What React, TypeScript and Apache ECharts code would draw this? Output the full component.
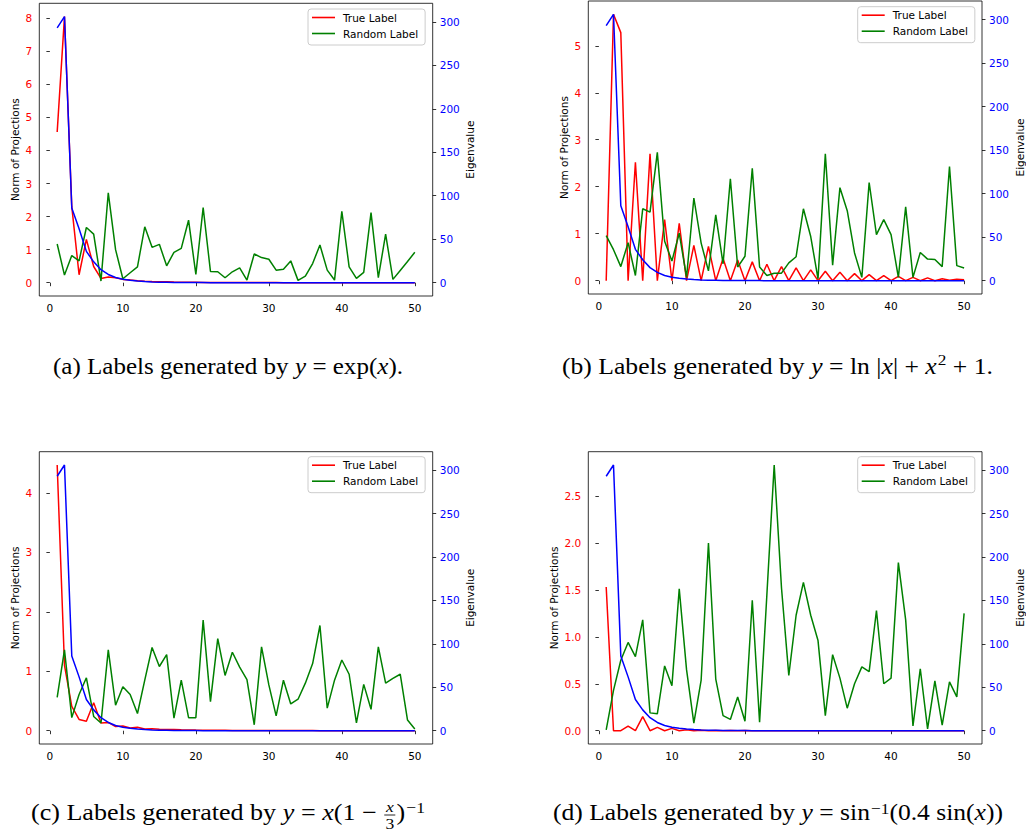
import React, { useEffect, useRef } from "react";
import * as echarts from "echarts";

// ---------- data ----------
const X_TICKS = [0, 10, 20, 30, 40, 50];
const EIG_TICKS = [0, 50, 100, 150, 200, 250, 300];
const NORM_TICKS_A = [0, 1, 2, 3, 4, 5, 6, 7, 8];
const NORM_TICKS_B = [0, 1, 2, 3, 4, 5];
const NORM_TICKS_C = [0, 1, 2, 3, 4];
const NORM_TICKS_D = [0, 0.5, 1, 1.5, 2, 2.5];

const EIGENVALUES = [
  293, 306, 86, 62, 36, 24, 15, 9.5, 6, 4,
  2.8, 1.9, 1.3, 0.9, 0.6, 0.45, 0.32, 0.23, 0.16, 0.12,
  0.09, 0.07, 0.05, 0.04, 0.03, 0.025, 0.02, 0.016, 0.013, 0.01,
  0.008, 0.007, 0.006, 0.005, 0.004, 0.0035, 0.003, 0.0025, 0.002, 0.0018,
  0.0015, 0.0013, 0.0011, 0.001, 0.0009, 0.0008, 0.0007, 0.0006, 0.0005, 0.0004,
];

const TRUE_A = [
  4.56, 8.05, 2.3, 0.24, 1.31, 0.49, 0.13, 0.17, 0.15, 0.1,
  0.08, 0.06, 0.045, 0.035, 0.03, 0.025, 0.02, 0.016, 0.013, 0.011,
  0.009, 0.008, 0.007, 0.006, 0.005, 0.005, 0.004, 0.004, 0.003, 0.003,
  0.003, 0.002, 0.002, 0.002, 0.002, 0.002, 0.001, 0.001, 0.001, 0.001,
  0.001, 0.001, 0.001, 0.001, 0.001, 0.001, 0.001, 0.001, 0.001, 0.001,
];
const RANDOM_A = [
  1.17, 0.23, 0.82, 0.66, 1.67, 1.47, 0.05, 2.72, 1.0, 0.12,
  0.3, 0.48, 1.69, 1.07, 1.16, 0.51, 0.92, 1.04, 1.89, 0.25,
  2.27, 0.34, 0.33, 0.15, 0.33, 0.45, 0.08, 0.87, 0.76, 0.71,
  0.38, 0.41, 0.66, 0.07, 0.2, 0.58, 1.14, 0.38, 0.08, 2.16,
  0.48, 0.13, 0.31, 2.12, 0.15, 1.47, 0.1, 0.37, 0.64, 0.92,
];

const TRUE_B = [
  0, 5.67, 5.28, 0, 2.52, 0, 2.7, 0, 1.3, 0,
  1.22, 0, 0.75, 0, 0.73, 0, 0.47, 0, 0.44, 0,
  0.4, 0, 0.35, 0, 0.3, 0, 0.27, 0, 0.23, 0,
  0.2, 0, 0.18, 0, 0.15, 0, 0.13, 0, 0.11, 0,
  0.09, 0, 0.07, 0, 0.06, 0, 0.04, 0.01, 0.03, 0.02,
];
const RANDOM_B = [
  0.96, 0.66, 0.3, 0.81, 0.11, 1.53, 1.46, 2.73, 0.84, 0.42,
  1.01, 0.07, 1.76, 0.8, 0.21, 1.4, 0.36, 2.17, 0.29, 0.52,
  2.39, 0.29, 0.11, 0.16, 0.16, 0.38, 0.51, 1.53, 0.94, 0.04,
  2.7, 0.33, 1.98, 1.49, 0.59, 0.07, 2.09, 0.98, 1.3, 0.98,
  0.07, 1.57, 0.07, 0.6, 0.46, 0.45, 0.3, 2.43, 0.32, 0.27,
];

const TRUE_C = [
  4.47, 1.1, 0.41, 0.19, 0.16, 0.47, 0.13, 0.14, 0.07, 0.08,
  0.045, 0.06, 0.03, 0.035, 0.025, 0.022, 0.02, 0.015, 0.012, 0.01,
  0.009, 0.008, 0.007, 0.006, 0.005, 0.005, 0.004, 0.004, 0.003, 0.003,
  0.003, 0.002, 0.002, 0.002, 0.002, 0.002, 0.001, 0.001, 0.001, 0.001,
  0.001, 0.001, 0.001, 0.001, 0.001, 0.001, 0.001, 0.001, 0.001, 0.001,
];
const RANDOM_C = [
  0.56, 1.36, 0.22, 0.61, 0.89, 0.24, 0.13, 1.36, 0.43, 0.74,
  0.61, 0.29, 0.85, 1.4, 1.08, 1.28, 0.21, 0.85, 0.22, 0.22,
  1.86, 0.49, 1.55, 0.93, 1.32, 1.07, 0.86, 0.1, 1.41, 0.77,
  0.25, 0.85, 0.45, 0.53, 0.8, 1.13, 1.77, 0.38, 0.85, 1.19,
  0.95, 0.13, 0.78, 0.36, 1.41, 0.8, 0.88, 0.95, 0.18, 0.03,
];

const TRUE_D = [
  1.53, 0, 0, 0.05, 0, 0.15, 0, 0.035, 0, 0.025,
  0, 0.01, 0, 0.005, 0, 0.003, 0, 0.002, 0, 0.001,
  0, 0, 0, 0, 0, 0, 0, 0, 0, 0,
  0, 0, 0, 0, 0, 0, 0, 0, 0, 0,
  0, 0, 0, 0, 0, 0, 0, 0, 0, 0,
];
const RANDOM_D = [
  0.01, 0.43, 0.75, 0.94, 0.79, 1.18, 0.19, 0.18, 0.69, 0.48,
  1.51, 0.65, 0.08, 0.54, 2.0, 0.55, 0.16, 0.12, 0.36, 0.1,
  1.39, 0.09, 1.45, 2.83, 1.52, 0.59, 1.23, 1.58, 1.23, 0.96,
  0.16, 0.81, 0.56, 0.24, 0.5, 0.68, 0.63, 1.28, 0.5, 0.56,
  1.79, 1.18, 0.05, 0.66, 0.02, 0.53, 0.06, 0.52, 0.36, 1.25,
];

// ---------- captions ----------
type Piece =
  | { k: "r" | "i"; t: string }
  | { k: "s"; t: string; dy: number }
  | { k: "f"; n: string; d: string };

const CAPTION_A: Piece[] = [
  { k: "r", t: "(a) Labels generated by " },
  { k: "i", t: "y" },
  { k: "r", t: " = exp(" },
  { k: "i", t: "x" },
  { k: "r", t: ")." },
];
const CAPTION_B: Piece[] = [
  { k: "r", t: "(b) Labels generated by " },
  { k: "i", t: "y" },
  { k: "r", t: " = ln |" },
  { k: "i", t: "x" },
  { k: "r", t: "| + " },
  { k: "i", t: "x" },
  { k: "s", t: "2", dy: -6.5 },
  { k: "r", t: " + 1." },
];
const CAPTION_C: Piece[] = [
  { k: "r", t: "(c) Labels generated by " },
  { k: "i", t: "y" },
  { k: "r", t: " = " },
  { k: "i", t: "x" },
  { k: "r", t: "(1 \u2212 " },
  { k: "f", n: "x", d: "3" },
  { k: "r", t: ")" },
  { k: "s", t: "\u22121", dy: -4.5 },
];
const CAPTION_D: Piece[] = [
  { k: "r", t: "(d) Labels generated by " },
  { k: "i", t: "y" },
  { k: "r", t: " = sin" },
  { k: "s", t: "\u22121", dy: -3.5 },
  { k: "r", t: "(0.4 sin(" },
  { k: "i", t: "x" },
  { k: "r", t: "))" },
];

const SANS = '"DejaVu Sans", sans-serif';
const SERIF = '"Liberation Serif", "Times New Roman", serif';
const MAIN_SIZE = 23;
const SMALL_SIZE = 15.5;

const PANELS = [
  {
    trueL: TRUE_A, randL: RANDOM_A, normTicks: NORM_TICKS_A, dec: 0,
    grid: { left: 39.3, top: 3.3, width: 393.4, height: 292.7 },
    legend: { left: 308, top: 9 }, nameGap: 19,
    caption: CAPTION_A, capX: 228, capY: 366, capW: 350,
  },
  {
    trueL: TRUE_B, randL: RANDOM_B, normTicks: NORM_TICKS_B, dec: 0,
    grid: { left: 588.3, top: 1, width: 394, height: 293 },
    legend: { left: 857.7, top: 6.7 }, nameGap: 19,
    caption: CAPTION_B, capX: 777.5, capY: 366, capW: 431,
  },
  {
    trueL: TRUE_C, randL: RANDOM_C, normTicks: NORM_TICKS_C, dec: 0,
    grid: { left: 39.3, top: 451.7, width: 393.4, height: 292.3 },
    legend: { left: 308, top: 456.7 }, nameGap: 19,
    caption: CAPTION_C, capX: 228, capY: 812, capW: 394,
  },
  {
    trueL: TRUE_D, randL: RANDOM_D, normTicks: NORM_TICKS_D, dec: 1,
    grid: { left: 588.3, top: 451.7, width: 394, height: 292.3 },
    legend: { left: 857.7, top: 456.7 }, nameGap: 29,
    caption: CAPTION_D, capX: 778, capY: 812, capW: 450,
  },
];

function measure(ctx: CanvasRenderingContext2D, text: string, italic: boolean, size: number) {
  ctx.font = `${italic ? "italic " : ""}${size}px "Liberation Serif"`;
  return ctx.measureText(text).width;
}

function buildCaption(pieces: Piece[], cx: number, cy: number, targetW: number) {
  const canvas = document.createElement("canvas");
  const ctx = canvas.getContext("2d") as CanvasRenderingContext2D;
  const widths = pieces.map((p) => {
    if (p.k === "f") {
      return Math.max(measure(ctx, p.n, true, SMALL_SIZE), measure(ctx, p.d, false, SMALL_SIZE)) + 4;
    }
    if (p.k === "s") return measure(ctx, p.t, false, SMALL_SIZE) + 1;
    return measure(ctx, p.t, p.k === "i", MAIN_SIZE);
  });
  const total = widths.reduce((a, b) => a + b, 0);
  let x = -total / 2;
  const els: any[] = [];
  const txt = (t: string, px: number, py: number, italic: boolean, size: number, align: string) => ({
    type: "text",
    x: px,
    y: py,
    silent: true,
    style: {
      text: t,
      fontFamily: SERIF,
      fontSize: size,
      fontStyle: italic ? "italic" : "normal",
      fill: "#000",
      align,
      verticalAlign: "middle",
    },
  });
  pieces.forEach((p, i) => {
    const w = widths[i];
    if (p.k === "f") {
      els.push(txt(p.n, x + w / 2, -5, true, SMALL_SIZE, "center"));
      els.push({
        type: "line",
        silent: true,
        shape: { x1: x + 1, y1: 3, x2: x + w - 1, y2: 3 },
        style: { stroke: "#000", lineWidth: 0.8 },
      });
      els.push(txt(p.d, x + w / 2, 11.5, false, SMALL_SIZE, "center"));
    } else if (p.k === "s") {
      els.push(txt(p.t, x + 1, p.dy, false, SMALL_SIZE, "left"));
    } else {
      els.push(txt(p.t, x, 0, p.k === "i", MAIN_SIZE, "left"));
    }
    x += w;
  });
  return {
    type: "group",
    x: cx,
    y: cy,
    scaleX: targetW / total,
    silent: true,
    children: els,
  };
}

const toPairs = (arr: number[]) => arr.map((v, j) => [j + 1, v]);

export default function App() {
  const ref = useRef<HTMLDivElement>(null);

  useEffect(() => {
    if (!ref.current) return;
    const chart = echarts.init(ref.current, undefined, { renderer: "svg" });

    const eigMax = Math.max(...EIGENVALUES);
    const grids: any[] = [];
    const xAxes: any[] = [];
    const yAxes: any[] = [];
    const series: any[] = [];
    const legends: any[] = [];
    const graphics: any[] = [];

    const tickStyle = { show: true, length: 3.5, lineStyle: { color: "#000", width: 0.8 } };

    PANELS.forEach((p, i) => {
      grids.push({
        ...p.grid,
        show: true,
        borderColor: "#000",
        borderWidth: 0.8,
        backgroundColor: "transparent",
        containLabel: false,
      });
      xAxes.push({
        type: "value",
        gridIndex: i,
        min: -1.45,
        max: 52.45,
        axisLine: { show: false },
        splitLine: { show: false },
        axisTick: { ...tickStyle, customValues: X_TICKS },
        axisLabel: {
          customValues: X_TICKS,
          color: "#000",
          fontSize: 10.5,
          fontFamily: SANS,
          margin: 6,
        },
      });
      const nMax = Math.max(...p.trueL, ...p.randL);
      yAxes.push({
        type: "value",
        gridIndex: i,
        position: "left",
        min: -0.05 * nMax,
        max: 1.05 * nMax,
        name: "Norm of Projections",
        nameLocation: "middle",
        nameRotate: 90,
        nameGap: p.nameGap,
        nameTextStyle: { color: "#000", fontSize: 10.5, fontFamily: SANS },
        axisLine: { show: false },
        splitLine: { show: false },
        axisTick: { ...tickStyle, customValues: p.normTicks },
        axisLabel: {
          customValues: p.normTicks,
          color: "#ff0000",
          fontSize: 10.5,
          fontFamily: SANS,
          margin: 7,
          formatter: (v: number) => v.toFixed(p.dec),
        },
      });
      yAxes.push({
        type: "value",
        gridIndex: i,
        position: "right",
        min: -0.05 * eigMax,
        max: 1.05 * eigMax,
        name: "Eigenvalue",
        nameLocation: "middle",
        nameRotate: 90,
        nameGap: 32,
        nameTextStyle: { color: "#000", fontSize: 10.5, fontFamily: SANS },
        axisLine: { show: false },
        splitLine: { show: false },
        axisTick: { ...tickStyle, customValues: EIG_TICKS },
        axisLabel: {
          customValues: EIG_TICKS,
          color: "#0000ff",
          fontSize: 10.5,
          fontFamily: SANS,
          margin: 7,
        },
      });
      const base = { type: "line", showSymbol: false, symbol: "none", silent: true, xAxisIndex: i };
      series.push({
        ...base,
        name: "True Label",
        yAxisIndex: 2 * i,
        data: toPairs(p.trueL),
        lineStyle: { color: "#ff0000", width: 1.5 },
        itemStyle: { color: "#ff0000" },
        z: 2,
      });
      series.push({
        ...base,
        name: "Random Label",
        yAxisIndex: 2 * i,
        data: toPairs(p.randL),
        lineStyle: { color: "#008000", width: 1.5 },
        itemStyle: { color: "#008000" },
        z: 2,
      });
      series.push({
        ...base,
        name: "Eigenvalue",
        yAxisIndex: 2 * i + 1,
        data: toPairs(EIGENVALUES),
        lineStyle: { color: "#0000ff", width: 1.5 },
        itemStyle: { color: "#0000ff" },
        z: 3,
      });
      legends.push({
        data: ["True Label", "Random Label"],
        orient: "vertical",
        left: p.legend.left,
        top: p.legend.top,
        icon: "rect",
        itemWidth: 23,
        itemHeight: 1.6,
        itemGap: 3,
        padding: [2, 7, 5, 4],
        borderColor: "#cccccc",
        borderWidth: 1,
        borderRadius: 3,
        backgroundColor: "rgba(255,255,255,0.8)",
        selectedMode: false,
        z: 10,
        textStyle: {
          color: "#000",
          fontSize: 10.5,
          fontFamily: SANS,
          lineHeight: 13,
          padding: [0, 0, 0, 3],
        },
      });
      graphics.push(buildCaption(p.caption, p.capX, p.capY, p.capW));
    });

    chart.setOption({
      animation: false,
      backgroundColor: "#ffffff",
      grid: grids,
      xAxis: xAxes,
      yAxis: yAxes,
      series,
      legend: legends,
      graphic: { elements: graphics },
    });

    return () => chart.dispose();
  }, []);

  return (
    <div
      ref={ref}
      style={{ position: "absolute", left: 0, top: 0, width: 1026, height: 831, background: "#fff" }}
    />
  );
}
